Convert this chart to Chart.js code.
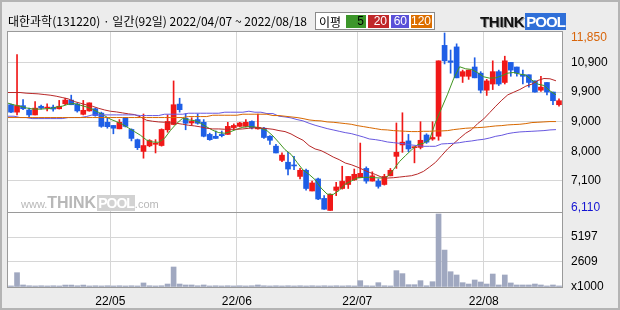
<!DOCTYPE html>
<html><head><meta charset="utf-8">
<script src="https://cdn.jsdelivr.net/npm/chart.js@4.4.1/dist/chart.umd.min.js"></script>
<style>
html,body{margin:0;padding:0;background:#ececec;}
#wrap{position:relative;width:620px;height:310px;overflow:hidden;background:#ececec;}
#c{position:absolute;left:0;top:0;}
.t{position:absolute;white-space:nowrap;}
#frame{position:absolute;left:0;top:0;width:620px;height:310px;box-sizing:border-box;border:2px solid #b4b4b4;pointer-events:none;}
#title{left:8px;top:14px;font:12px "Noto Sans CJK KR",sans-serif;line-height:14px;color:#000;}
#leg{left:315px;top:12px;width:118px;height:16px;background:#fff;border:1px solid #8a8a8a;}
#leg span{position:absolute;top:2px;height:13px;font:12px "Liberation Sans",sans-serif;line-height:13px;text-align:right;box-sizing:border-box;padding-right:2px;color:#fff;}
#leg .lb{left:3px;top:0;height:16px;line-height:16px;color:#000;font:12px "Noto Sans CJK KR",sans-serif;text-align:left;}
#logo{left:480px;top:13px;font:bold 15px "Liberation Sans",sans-serif;line-height:17px;letter-spacing:-0.3px;}
#logo .k{color:#111;text-shadow:1px 1px 0 #9a9a9a;}
#logo .p{color:#fff;background:#2f6fd8;padding:0 1px;margin-left:1px;letter-spacing:-1px;}
#wm{left:21px;top:194px;color:#b8b8b8;font:11px "Liberation Sans",sans-serif;line-height:17px;}
#wm b{font:bold 16px "Liberation Sans",sans-serif;line-height:17px;}
#wm .p2{color:#fff;background:#d2d2d2;padding:0 1px;margin-left:1px;font-size:14px;letter-spacing:-1px;}
</style></head>
<body>
<div id="wrap">
<canvas id="c" width="620" height="310"></canvas>
<div class="t" id="title">대한과학(131220) · 일간(92일) 2022/04/07 ~ 2022/08/18</div>
<div class="t" id="leg"><span class="lb">이평</span><span style="left:30px;width:20px;background:#3c962a;color:#000">5</span><span style="left:52px;width:21px;background:#c0282a">20</span><span style="left:75px;width:18px;background:#5a50d8">60</span><span style="left:95px;width:21px;background:#dc6e00">120</span></div>
<div class="t" id="logo"><span class="k">THINK</span><span class="p">POOL</span></div>
<div class="t" id="wm">www.<b>THINK</b><b class="p2">POOL</b>.com</div>
<div id="frame"></div>
</div>
<script>
const DATES = [
'2022-04-07','2022-04-08','2022-04-11','2022-04-12','2022-04-13','2022-04-14','2022-04-15','2022-04-18','2022-04-19','2022-04-20','2022-04-21','2022-04-22','2022-04-25','2022-04-26','2022-04-27','2022-04-28','2022-04-29',
'2022-05-02','2022-05-03','2022-05-04','2022-05-06','2022-05-09','2022-05-10','2022-05-11','2022-05-12','2022-05-13','2022-05-16','2022-05-17','2022-05-18','2022-05-19','2022-05-20','2022-05-23','2022-05-24','2022-05-25','2022-05-26','2022-05-27','2022-05-30','2022-05-31',
'2022-06-02','2022-06-03','2022-06-07','2022-06-08','2022-06-09','2022-06-10','2022-06-13','2022-06-14','2022-06-15','2022-06-16','2022-06-17','2022-06-20','2022-06-21','2022-06-22','2022-06-23','2022-06-24','2022-06-27','2022-06-28','2022-06-29','2022-06-30',
'2022-07-01','2022-07-04','2022-07-05','2022-07-06','2022-07-07','2022-07-08','2022-07-11','2022-07-12','2022-07-13','2022-07-14','2022-07-15','2022-07-18','2022-07-19','2022-07-20','2022-07-21','2022-07-22','2022-07-25','2022-07-26','2022-07-27','2022-07-28','2022-07-29',
'2022-08-01','2022-08-02','2022-08-03','2022-08-04','2022-08-05','2022-08-08','2022-08-09','2022-08-10','2022-08-11','2022-08-12','2022-08-16','2022-08-17','2022-08-18'];

const OPEN = [9530,9290,9500,9360,9200,9480,9420,9450,9400,9560,9680,9550,9220,9330,9400,9260,8960,8860,8750,9120,8730,8400,8020,
8200,8250,8210,8720,8890,9550,9090,8940,9050,8960,8570,8510,8570,8570,8790,8830,8830,8990,8750,8770,8510,8190,7730,
7670,7570,7210,7410,6740,7130,6500,6110,6760,6820,6950,7100,7170,7470,7060,7060,6950,7230,7860,8230,8360,8140,8150,
8550,8420,8510,11450,10950,11400,10450,10450,10750,10550,10000,10200,10600,10250,10900,10750,10500,10500,10300,10000,10250,9940,9530];
const HIGH = [9550,11150,9700,9420,9630,9520,9560,9520,9670,9740,9840,9580,9670,9590,9420,9290,9120,8860,9050,9120,8750,8420,9230,
8400,8400,8750,9200,10300,9740,9240,9110,9230,9050,8610,8680,8680,8960,8910,8960,9050,9010,9230,8800,8530,8250,7970,
7990,7860,7470,7450,7060,7160,6590,6650,7020,7540,7210,7450,8290,7520,7360,7130,7280,7470,8940,9270,8570,8170,8980,
8590,8980,10950,11850,11300,11500,10650,10650,11050,10600,10350,10950,10650,11100,10900,10750,10650,10500,10300,10450,10250,9940,9720];
const LOW = [9270,9200,9370,9130,9200,9390,9330,9320,9390,9530,9530,9290,9200,9320,9160,8800,8770,8590,8750,8810,8360,8080,7800,
8170,7970,8190,8640,8880,9290,8720,8880,8900,8490,8380,8440,8490,8570,8730,8810,8810,8750,8740,8440,8250,7970,7690,
7260,7430,7130,6770,6740,6460,6140,6110,6590,6800,6820,7080,7170,6990,7060,6830,6930,7230,7470,7990,8010,7650,8100,
8280,8380,8380,10850,10550,10400,10250,10350,10400,9910,9830,10020,10150,10200,10450,10450,10200,10100,9940,9960,9850,9530,9480];
const CLOSE = [9290,9500,9400,9200,9420,9420,9450,9390,9480,9680,9530,9330,9350,9590,9180,8830,8820,8770,8960,8830,8440,8140,8210,
8370,8280,8730,8990,9530,9370,8930,8990,8930,8510,8400,8440,8530,8830,8860,8940,8960,8790,8800,8470,8380,7970,7900,
7450,7550,7410,6820,7000,6480,6150,6630,6870,7050,7210,7280,7310,7060,7230,6890,7210,7410,7990,8320,8100,8170,8380,
8320,8470,10950,10950,10900,10400,10600,10650,10400,10000,10300,10600,10200,10950,10650,10550,10450,10250,9940,10100,9940,9660,9660];
const VOLUME = [110,1490,210,130,110,130,110,130,110,200,200,130,200,110,130,110,130,110,130,110,130,110,420,
130,110,130,310,2080,310,210,210,130,210,110,130,110,130,110,130,110,130,210,130,110,130,110,
130,110,130,110,130,110,130,110,130,110,130,110,660,130,110,450,130,110,1700,1390,240,240,660,
130,550,7590,3840,1590,1250,450,310,730,520,310,1350,210,1250,420,210,210,210,310,210,110,210,110];

const MA5 = [9580,9525,9482,9428,9396,9385,9396,9407,9450,9482,9547,9569,9515,9461,9385,9288,9180,9061,8985,8898,8780,8661,8542,
8390,8325,8315,8444,8704,8920,9093,9039,9017,8931,8812,8704,8628,8607,8661,8736,8801,8823,8812,8769,8693,8520,8304,
8077,7926,7666,7417,7277,7104,6834,6639,6628,6758,6963,7061,7158,7180,7180,7169,7158,7201,7428,7688,7882,8066,8239,
8282,8401,8963,9417,9871,10369,10758,10693,10671,10563,10433,10390,10401,10466,10552,10574,10520,10487,10325,10196,10153,9979,9850];
const MA20 = [9925,9925,9925,9904,9893,9882,9860,9839,9806,9763,9720,9634,9580,9525,9482,9417,9363,9320,9298,9266,9234,9212,9136,
9028,8996,8974,8963,8942,8931,8898,8866,8844,8812,8769,8747,8747,8736,8736,8736,8747,8769,8780,8780,8758,8736,8693,
8661,8585,8477,8380,8207,8099,8045,7947,7839,7753,7645,7590,7515,7428,7342,7277,7190,7158,7169,7190,7212,7234,7288,
7374,7515,7666,7882,8099,8271,8444,8607,8725,8920,9071,9277,9482,9677,9850,9936,10023,10131,10196,10315,10379,10369,10304];
const MA60 = [9158,9158,9115,9115,9082,9082,9082,9082,9082,9082,9115,9115,9115,9147,9201,9201,9201,9201,9201,9201,9201,9201,9180,
9180,9180,9180,9223,9223,9223,9223,9255,9255,9255,9255,9255,9255,9288,9288,9288,9288,9320,9288,9288,9244,9244,9158,
9136,9104,9050,9007,8931,8866,8812,8758,8715,8671,8628,8596,8542,8488,8423,8401,8369,8325,8304,8282,8261,8228,8207,
8185,8185,8185,8261,8272,8282,8304,8336,8358,8390,8412,8455,8509,8542,8596,8628,8650,8661,8671,8682,8693,8715,8725];
const MA120 = [9115,9115,9115,9115,9115,9115,9115,9115,9115,9115,9115,9115,9115,9115,9115,9115,9115,9115,9115,9115,9115,9115,9115,
9115,9115,9115,9115,9115,9115,9115,9147,9147,9147,9147,9190,9190,9190,9190,9190,9223,9223,9223,9223,9223,9180,9180,
9158,9136,9115,9082,9039,9017,9007,8974,8963,8942,8920,8898,8855,8823,8790,8758,8725,8715,8693,8682,8671,8661,8661,
8671,8671,8682,8682,8693,8725,8747,8769,8780,8790,8801,8823,8844,8855,8877,8888,8898,8920,8953,8963,8974,8985,8985];

const PRICE_TICKS = [6110, 7067, 8023, 8980, 9937, 10893, 11850];
const PRICE_LABELS = ['6,110','7,100','8,000','9,000','9,900','10,900','11,850'];
const VOL_TICKS = [0, 2609, 5197];
const VOL_LABELS = ['x1000','2609','5197'];

const UP = 'rgb(240,24,24)', DOWN = 'rgb(30,94,230)';
const GRID = '#d6d6d6', BORDER = '#9a9a9a', NONE = 'rgba(0,0,0,0)';
const TICK_FONT = {family: '"Liberation Sans", Arial, sans-serif', size: 12};
const candleColor = i => CLOSE[i] >= OPEN[i] ? UP : DOWN;
const isMonthStart = i => i > 0 && i < DATES.length && DATES[i].slice(5,7) !== DATES[i-1].slice(5,7);
const monthLabel = i => isMonthStart(i) ? DATES[i].slice(2,4) + '/' + DATES[i].slice(5,7) : '';
const lineData = arr => arr.map((v, i) => ({x: i - 0.5, y: v}));

const framePlugin = {
  id: 'frame',
  beforeDraw(chart) {
    const {ctx, chartArea: a} = chart;
    ctx.save();
    ctx.fillStyle = '#ffffff';
    ctx.fillRect(a.left, a.top, a.right - a.left, a.bottom - a.top);
    ctx.restore();
    // keep the extreme price labels inside the pane, as in the original
    const s = chart.scales.y;
    const items = s.getLabelItems(a);
    if (items.length) {
      items[0].options.translation[1] = s.getPixelForValue(PRICE_TICKS[0]) - 3;
      items[items.length - 1].options.translation[1] = s.getPixelForValue(PRICE_TICKS[PRICE_TICKS.length - 1]) + 5;
    }
  },
  afterDraw(chart) {
    const {ctx, chartArea: a, scales} = chart;
    ctx.save();
    ctx.strokeStyle = BORDER;
    ctx.lineWidth = 1;
    const l = Math.round(a.left) - 0.5, r = Math.round(a.right) + 0.5;
    const t = Math.round(a.top) + 0.5, b = Math.round(a.bottom) + 0.5;
    ctx.strokeRect(l, t, r - l, b - t);
    const yd = Math.round(scales.yv.top) + 0.5;
    ctx.beginPath(); ctx.moveTo(l, yd); ctx.lineTo(r, yd); ctx.stroke();
    ctx.restore();
  }
};

const maSet = (label, arr, color) => ({
  type: 'line', label, data: lineData(arr), xAxisID: 'xl', yAxisID: 'y',
  borderColor: color, borderWidth: 1, pointRadius: 0, tension: 0, order: 1
});

new Chart(document.getElementById('c'), {
  type: 'bar',
  data: {
    labels: DATES,
    datasets: [
      maSet('120', MA120, 'rgb(216,104,0)'),
      maSet('60', MA60, 'rgb(104,88,224)'),
      maSet('20', MA20, 'rgb(184,40,40)'),
      maSet('5', MA5, 'rgb(64,150,32)'),
      {type: 'bar', label: 'wick', data: DATES.map((d, i) => [LOW[i], HIGH[i]]), xAxisID: 'x', yAxisID: 'y',
       backgroundColor: c => candleColor(c.dataIndex), barThickness: 1, grouped: false, order: 3},
      {type: 'bar', label: 'body', data: DATES.map((d, i) => [OPEN[i], CLOSE[i]]), xAxisID: 'x', yAxisID: 'y',
       backgroundColor: c => candleColor(c.dataIndex), barThickness: 5, minBarLength: 1, grouped: false, order: 2},
      {type: 'bar', label: 'volume', data: VOLUME, xAxisID: 'x', yAxisID: 'yv',
       backgroundColor: 'rgb(160,168,192)', barThickness: 5, grouped: false, order: 4}
    ]
  },
  options: {
    responsive: false, animation: false, devicePixelRatio: 1,
    layout: {padding: {left: 8, top: 31, right: 0, bottom: 0}},
    plugins: {legend: {display: false}, tooltip: {enabled: false}},
    scales: {
      x: {
        type: 'category', position: 'bottom', offset: true,
        grid: {offset: true, drawTicks: false, color: c => isMonthStart(c.index) ? GRID : NONE},
        border: {display: false},
        ticks: {autoSkip: false, maxRotation: 0, minRotation: 0, padding: 7, labelOffset: -3,
                font: TICK_FONT, color: '#000', callback: (v, i) => monthLabel(i)},
        afterFit: s => { s.height = 23; }
      },
      xl: {type: 'linear', display: false, offset: false, grace: 0, min: -0.5, max: 91.5, grid: {offset: false}},
      y: {
        type: 'linear', position: 'right', stack: 'panes', stackWeight: 181,
        min: 6060, max: 11915,
        afterBuildTicks: s => { s.ticks = PRICE_TICKS.map(v => ({value: v})); },
        grid: {drawTicks: false, color: c => (c.index === 0 || c.index === PRICE_TICKS.length - 1) ? NONE : GRID},
        border: {display: false},
        ticks: {padding: 9, font: TICK_FONT, autoSkip: false,
                color: c => c.index === 0 ? '#1414d2' : (c.index === PRICE_TICKS.length - 1 ? '#d8650a' : '#000'),
                callback: (v, i) => PRICE_LABELS[i]},
        afterFit: s => { s.width = 58; }
      },
      yv: {
        type: 'linear', position: 'right', stack: 'panes', stackWeight: 75,
        min: 0, max: 7800,
        afterBuildTicks: s => { s.ticks = VOL_TICKS.map(v => ({value: v})); },
        grid: {drawTicks: false, color: c => c.index === 0 ? NONE : GRID},
        border: {display: false},
        ticks: {padding: 9, font: TICK_FONT, color: '#000', autoSkip: false,
                callback: (v, i) => VOL_LABELS[i]},
        afterFit: s => { s.width = 58; }
      }
    }
  },
  plugins: [framePlugin]
});
</script>
</body></html>
